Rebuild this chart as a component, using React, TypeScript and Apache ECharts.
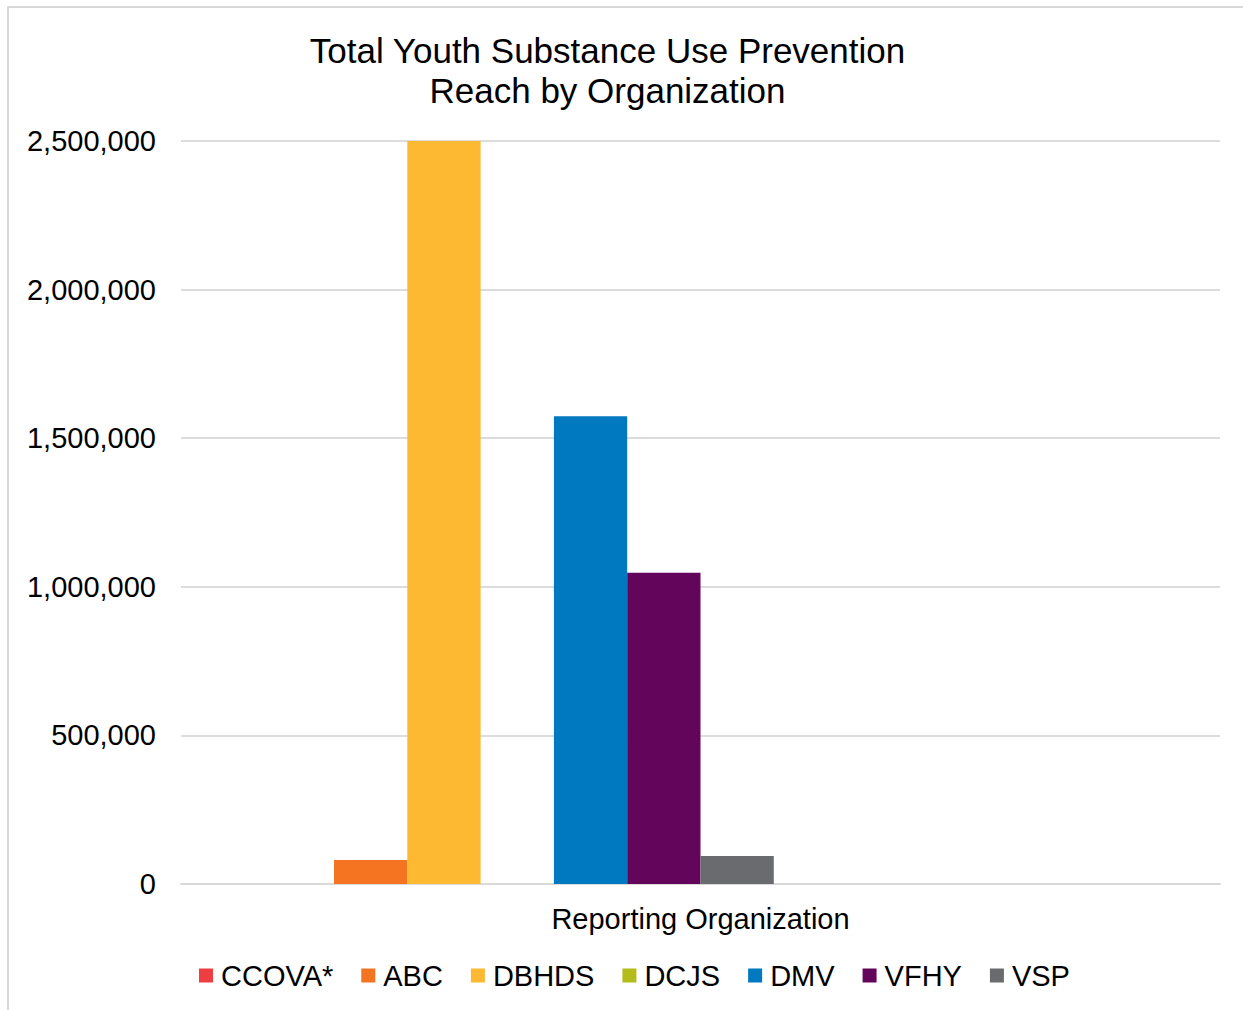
import React, { useEffect, useRef } from "react";
import * as echarts from "echarts";

const titleLines = ["Total Youth Substance Use Prevention", "Reach by Organization"];
const categories = ["Reporting Organization"];
const seriesNames = ["CCOVA*", "ABC", "DBHDS", "DCJS", "DMV", "VFHY", "VSP"];
const seriesValues = [0, 81000, 2500000, 0, 1574000, 1047000, 94000];
const seriesColors = ["#EF3E42", "#F47421", "#FDB931", "#B3BC1A", "#0079C1", "#63065B", "#6A6B6F"];
// unlabelled empty slots present in the original chart (no legend entries)
const emptySlotNames = ["slot8", "slot9", "slot10", "slot11", "slot12"];
const yTicks = { min: 0, max: 2500000, interval: 500000 };

const FONT = "'Liberation Sans', Arial, Helvetica, sans-serif";

export default function App() {
  const ref = useRef<HTMLDivElement>(null);
  useEffect(() => {
    if (!ref.current) return;
    const chart = echarts.init(ref.current, undefined, { renderer: "svg" });
    const barWidth = 73.3;
    const series: any[] = seriesNames.map((n, i) => ({
      name: n,
      type: "bar",
      data: [seriesValues[i]],
      barWidth,
      barGap: "0%",
      itemStyle: { color: seriesColors[i] },
    }));
    emptySlotNames.forEach((n) =>
      series.push({ name: n, type: "bar", data: ["-"], barWidth, barGap: "0%", itemStyle: { color: "#ffffff" } })
    );
    chart.setOption({
      animation: false,
      backgroundColor: "#ffffff",
      textStyle: { fontFamily: FONT },
      graphic: [
        {
          type: "rect",
          shape: { x: 8, y: 7, width: 1400, height: 1200 },
          style: { fill: "none", stroke: "#d9d9d9", lineWidth: 2 },
          silent: true,
        },
        {
          type: "text",
          x: 607.5,
          y: 30,
          style: {
            text: titleLines.join("\n"),
            fill: "#000000",
            fontSize: 35,
            fontFamily: FONT,
            lineHeight: 40,
            textAlign: "center",
            textVerticalAlign: "top",
          },
        },
      ],
      grid: { left: 181, right: 23, top: 141, bottom: 126, containLabel: false },
      legend: {
        data: seriesNames,
        left: 199,
        top: 961,
        padding: 0,
        itemWidth: 14,
        itemHeight: 14,
        itemGap: 28,
        icon: "rect",
        textStyle: { fontSize: 29, color: "#000000", fontFamily: FONT, padding: [0, 0, 0, 3] },
      },
      xAxis: {
        type: "category",
        data: categories,
        axisLine: { show: true, lineStyle: { color: "#d9d9d9", width: 2 } },
        axisTick: { show: false },
        axisLabel: { fontSize: 29, color: "#000000", margin: 20, fontFamily: FONT },
      },
      yAxis: {
        type: "value",
        min: yTicks.min,
        max: yTicks.max,
        interval: yTicks.interval,
        axisLine: { show: false },
        axisTick: { show: false },
        splitLine: { lineStyle: { color: "#dcdcdc", width: 2 } },
        axisLabel: {
          fontSize: 29,
          color: "#000000",
          margin: 25,
          fontFamily: FONT,
          formatter: (v: number) => v.toLocaleString("en-US"),
        },
      },
      series,
    });
    return () => chart.dispose();
  }, []);
  return (
    <div
      ref={ref}
      style={{ position: "absolute", left: 0, top: 0, width: 1243, height: 1010 }}
    />
  );
}
